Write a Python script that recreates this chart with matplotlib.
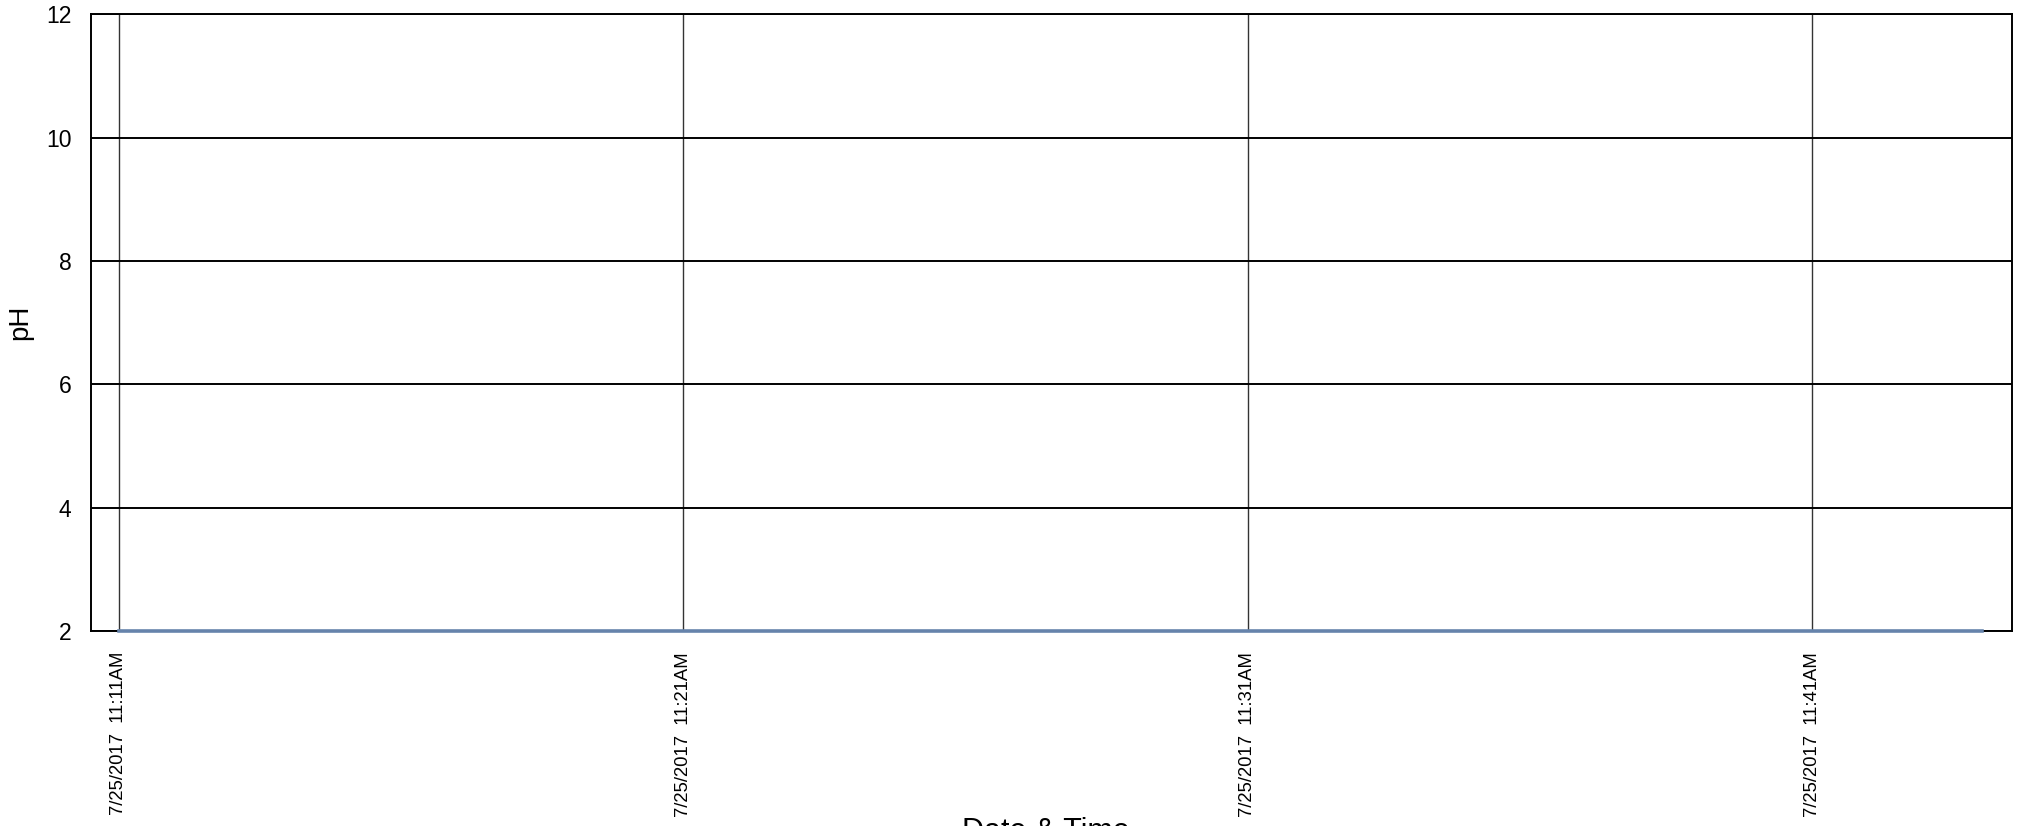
import matplotlib
matplotlib.use("Agg")
import matplotlib.pyplot as plt
import matplotlib.dates as mdates
import pandas as pd

# readings, one per minute
times = ["11:11", "11:12", "11:13", "11:14", "11:15", "11:16", "11:17", "11:18",
         "11:19", "11:20", "11:21", "11:22", "11:23", "11:24", "11:25", "11:26",
         "11:27", "11:28", "11:29", "11:30", "11:31", "11:32", "11:33", "11:34",
         "11:35", "11:36", "11:37", "11:38", "11:39", "11:40", "11:41", "11:42",
         "11:43", "11:44"]
ph = [2.0, 2.0, 2.0, 2.0, 2.0, 2.0, 2.0, 2.0, 2.0, 2.0, 2.0, 2.0, 2.0, 2.0, 2.0, 2.0, 2.0,
      2.0, 2.0, 2.0, 2.0, 2.0, 2.0, 2.0, 2.0, 2.0, 2.0, 2.0, 2.0, 2.0, 2.0, 2.0, 2.0, 2.0]
tick_times = ["11:11", "11:21", "11:31", "11:41"]
y_ticks = [2, 4, 6, 8, 10, 12]

day = "2017-07-25 "
x = pd.to_datetime([day + t for t in times])
xt = pd.to_datetime([day + t for t in tick_times])

plt.rcParams['font.family'] = ['Liberation Sans', 'DejaVu Sans']

fig = plt.figure(figsize=(20.17, 8.26), dpi=100)
ax = fig.add_axes([0.045, 0.236, 0.9525, 0.7467])

ax.plot(x, ph, color='#6683ab', linewidth=2.6, clip_on=False, zorder=5)

ax.set_ylim(2, 12)
ax.set_yticks(y_ticks)
ax.set_xlim(x[0] - pd.Timedelta(seconds=30), x[-1] + pd.Timedelta(seconds=32))
ax.set_xticks(xt)

def fmt(v, pos):
    d = mdates.num2date(v)
    h = d.hour % 12 or 12
    ap = "AM" if d.hour < 12 else "PM"
    return "{}/{}/{}  {}:{:02d}{}".format(d.month, d.day, d.year, h, d.minute, ap)

ax.xaxis.set_major_formatter(plt.FuncFormatter(fmt))

ax.grid(axis='y', color='black', linewidth=1.4)
ax.grid(axis='x', color='#333333', linewidth=1.0)
ax.set_axisbelow(True)
for s in ax.spines.values():
    s.set_linewidth(1.4)
    s.set_color('black')

ax.tick_params(axis='y', length=0, pad=14, labelsize=16.5)
ax.tick_params(axis='x', length=0, pad=15, labelsize=13.3, labelrotation=90)

ax.set_ylabel("pH", fontsize=20)
ax.yaxis.set_label_coords(-0.03, 0.5)
ax.set_xlabel("Date & Time", fontsize=22)
ax.xaxis.set_label_coords(0.497, -0.301)

fig.savefig("out.png", dpi=100)
